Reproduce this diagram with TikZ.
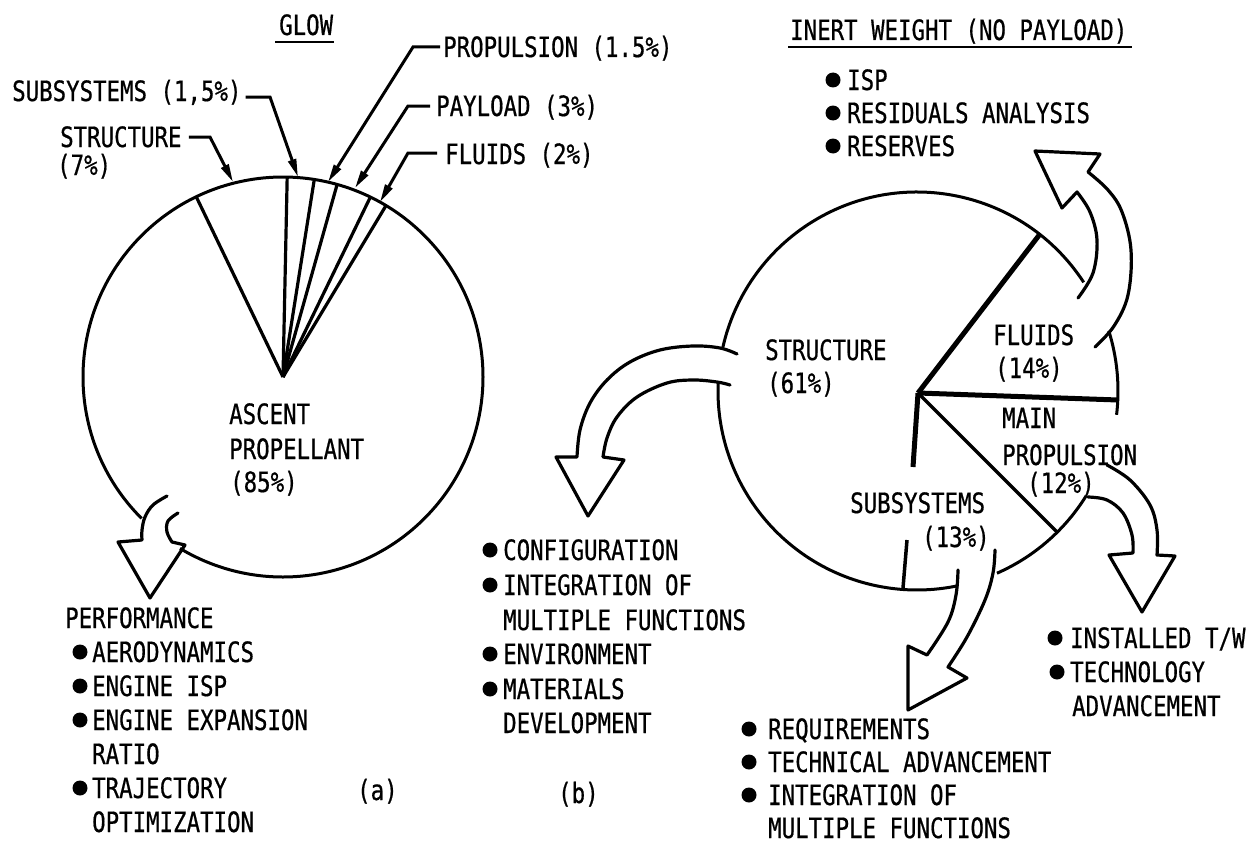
\documentclass[tikz,border=0pt]{standalone}
\usepackage{fontspec}
\newfontfamily\lblfont[FakeStretch=0.8,FakeBold=0.6]{DejaVu Sans Mono}
\usetikzlibrary{arrows.meta}
\begin{document}
\begin{tikzpicture}[x=1pt,y=-1pt,
  lbl/.style={anchor=base west,inner sep=0pt,font=\lblfont\fontsize{28}{34}\selectfont},
  pie/.style={line width=3pt},
  wedge/.style={line width=3.2pt},
  heavy/.style={line width=5pt},
  leader/.style={line width=3pt,-{Triangle[length=18pt,width=8pt]}},
  blk/.style={line width=3.2pt,line join=round,line cap=round},
  bul/.style={circle,fill,inner sep=0pt,minimum size=15pt}]
\useasboundingbox[fill=white] (0,0) rectangle (1248,843);

% ---------------- left pie (GLOW) ----------------
\coordinate (c1) at (283,377);
\draw[pie] (c1) ++(135:200) arc[start angle=135,end angle=481,radius=200];
\foreach \a in {-115.7,-88.8,-81,-74.3,-64.1,-59} \draw[wedge] (c1) -- ++(\a:200);

\node[lbl] (glow) at (279,35) {GLOW};
\draw[line width=2pt] ([shift={(-4pt,-7pt)}]glow.base west) -- ([shift={(1pt,-7pt)}]glow.base east);

\coordinate (tSt) at (233,182);
\coordinate (tSu) at (298,177);
\coordinate (tPr) at (328,182);
\coordinate (tPa) at (355,188);
\coordinate (tFl) at (380,202);

\node[lbl] (lPr) at (443,57) {PROPULSION (1.5\%)};
\node[lbl] (lSu) at (12,101) {SUBSYSTEMS (1,5\%)};
\node[lbl] (lPa) at (436,116) {PAYLOAD (3\%)};
\node[lbl] (lSt) at (60,147) {STRUCTURE};
\node[lbl] (lStp) at (57,175) {(7\%)};
\node[lbl] (lFl) at (445,164) {FLUIDS (2\%)};

\draw[leader] ([shift={(7pt,10pt)}]lSt.base east) -- (210,137) -- (tSt);
\draw[leader] ([shift={(4pt,4pt)}]lSu.base east) -- (270,97) -- (tSu);
\draw[leader] ([shift={(-3pt,10pt)}]lPr.base west) -- (413,47) -- (tPr);
\draw[leader] ([shift={(-6pt,10pt)}]lPa.base west) -- (408,106) -- (tPa);
\draw[leader] ([shift={(-8pt,11pt)}]lFl.base west) -- (408,153) -- (tFl);

\node[lbl] (asc1) at (229,424) {ASCENT};
\node[lbl] (asc2) at (229,459) {PROPELLANT};
\node[lbl] (asc3) at (230,492) {(85\%)};

% performance arrow
\draw[blk] plot[smooth,tension=0.6] coordinates {(167,496) (153,505) (145,517) (142,530) (142,540)}
  -- (118,542) -- (150,598) -- (185,545) -- (172,542)
  -- plot[smooth,tension=0.6] coordinates {(172,542) (167,532) (168,521) (178,513)};

\node[lbl] (perf) at (65,628) {PERFORMANCE};
\node[bul] (pb1) at (80,652) {};
\node[lbl] (p1) at (92,662) {AERODYNAMICS};
\node[bul] (pb2) at (80,686) {};
\node[lbl] (p2) at (92,696) {ENGINE ISP};
\node[bul] (pb3) at (80,720) {};
\node[lbl] (p3) at (92,730) {ENGINE EXPANSION};
\node[lbl] (p3b) at (92,764) {RATIO};
\node[bul] (pb4) at (80,788) {};
\node[lbl] (p4) at (92,798) {TRAJECTORY};
\node[lbl] (p4b) at (92,832) {OPTIMIZATION};
\node[lbl] (capa) at (357,800) {(a)};

% ---------------- right pie (inert weight) ----------------
\node[lbl] (inert) at (790,40) {INERT WEIGHT (NO PAYLOAD)};
\draw[line width=2pt] ([shift={(-2pt,-7pt)}]inert.base west) -- ([shift={(4pt,-7pt)}]inert.base east);

\node[bul] (ib1) at (833,80) {};
\node[lbl] (i1) at (847,90) {ISP};
\node[bul] (ib2) at (833,113) {};
\node[lbl] (i2) at (847,123) {RESIDUALS ANALYSIS};
\node[bul] (ib3) at (833,146) {};
\node[lbl] (i3) at (847,156) {RESERVES};

\coordinate (c2) at (917,391);
\coordinate (apx) at (918,393);
\draw[pie] (c2) ++(-33.1:199) arc[start angle=-33.1,end angle=-167.3,radius=199];
\draw[pie] (c2) ++(-177.4:199) arc[start angle=-177.4,end angle=-281.9,radius=199];
\draw[pie] (c2) ++(66.3:199) arc[start angle=66.3,end angle=31.8,radius=199];
\draw[pie] (c2) ++(-17.4:201) arc[start angle=-17.4,end angle=6.8,radius=201];

\draw[heavy] (apx) -- (1040,234);
\draw[heavy] (apx) -- (1118,400);
\draw[heavy] (apx) -- (913,467);
\draw[line width=3.5pt] (907,540) -- (903,588);
\draw[line width=3.5pt] (apx) -- (1057,532);

% structure arrow
\draw[blk] plot[smooth,tension=0.6] coordinates {(737,354) (720,348) (693,346) (660,350) (630,362) (607,380) (590,403) (580,430) (577,457)}
  -- (556,457) -- (588,516) -- (624,460) -- (603,457)
  -- plot[smooth,tension=0.6] coordinates {(603,457) (607,438) (617,417) (637,397) (667,383) (693,380) (717,382) (730,385)};

% fluids arrow
\draw[blk] plot[smooth,tension=0.6] coordinates {(1078,298) (1093,273) (1097,240) (1090,212) (1077,192)}
  -- (1062,208) -- (1035,151) -- (1100,154) -- (1088,172)
  -- plot[smooth,tension=0.6] coordinates {(1088,172) (1108,190) (1122,212) (1131,250) (1128,295) (1114,326) (1095,347)};

% subsystems arrow
\draw[blk] plot[smooth,tension=0.6] coordinates {(958,570) (956,595) (948,622) (927,655)}
  -- (908,646) -- (908,710) -- (967,678) -- (948,667)
  -- plot[smooth,tension=0.6] coordinates {(948,667) (967,637) (985,600) (993,573) (995,550)};

% main propulsion arrow
\draw[blk] plot[smooth,tension=0.6] coordinates {(1088,497) (1107,500) (1123,513) (1132,535) (1133,553)}
  -- (1109,555) -- (1142,612) -- (1175,556) -- (1157,555)
  -- plot[smooth,tension=0.6] coordinates {(1157,555) (1157,530) (1150,505) (1130,480) (1107,465)};

\node[lbl] (rs1) at (765,360) {STRUCTURE};
\node[lbl] (rs2) at (767,393) {(61\%)};
\node[lbl] (rf1) at (993,345) {FLUIDS};
\node[lbl] (rf2) at (995,378) {(14\%)};
\node[lbl] (rm1) at (1002,428) {MAIN};
\node[lbl] (rm2) at (1002,465) {PROPULSION};
\node[lbl] (rm3) at (1027,493) {(12\%)};
\node[lbl] (ru1) at (850,513) {SUBSYSTEMS};
\node[lbl] (ru2) at (922,547) {(13\%)};

% structure list
\node[bul] (sb1) at (490,550) {};
\node[lbl] (s1) at (503,560) {CONFIGURATION};
\node[bul] (sb2) at (490,585) {};
\node[lbl] (s2) at (503,595) {INTEGRATION OF};
\node[lbl] (s2b) at (503,630) {MULTIPLE FUNCTIONS};
\node[bul] (sb3) at (490,654) {};
\node[lbl] (s3) at (503,664) {ENVIRONMENT};
\node[bul] (sb4) at (490,689) {};
\node[lbl] (s4) at (503,699) {MATERIALS};
\node[lbl] (s4b) at (503,733) {DEVELOPMENT};
\node[lbl] (capb) at (558,803) {(b)};

% main propulsion list
\node[bul] (mb1) at (1055,638) {};
\node[lbl] (m1) at (1070,648) {INSTALLED T/W};
\node[bul] (mb2) at (1057,672) {};
\node[lbl] (m2) at (1070,682) {TECHNOLOGY};
\node[lbl] (m2b) at (1072,716) {ADVANCEMENT};

% subsystems list
\node[bul] (ub1) at (749,729) {};
\node[lbl] (u1) at (768,739) {REQUIREMENTS};
\node[bul] (ub2) at (749,762) {};
\node[lbl] (u2) at (768,772) {TECHNICAL ADVANCEMENT};
\node[bul] (ub3) at (749,795) {};
\node[lbl] (u3) at (768,805) {INTEGRATION OF};
\node[lbl] (u3b) at (768,838) {MULTIPLE FUNCTIONS};
\end{tikzpicture}
\end{document}
